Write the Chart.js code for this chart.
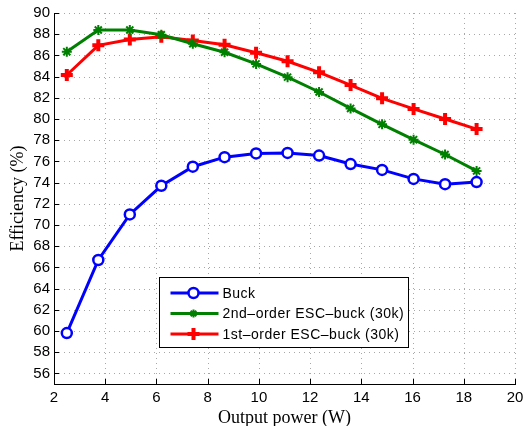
<!DOCTYPE html>
<html>
<head>
<meta charset="utf-8">
<script src="https://cdn.jsdelivr.net/npm/chart.js@4/dist/chart.umd.min.js"></script>
<style>
    html, body { margin: 0; padding: 0; background: #fff; }
    #wrap { width: 525px; height: 426px; }
</style>
</head>
<body>
<div id="wrap"><canvas id="myChart" width="525" height="426"></canvas></div>
<script>
// output power (W)
var power = [2.5, 3.73, 4.96, 6.19, 7.42, 8.66, 9.89, 11.12, 12.35, 13.58, 14.81, 16.04, 17.27, 18.5];
// efficiency (%)
var buck = [59.8, 66.7, 71.0, 73.7, 75.5, 76.4, 76.75, 76.8, 76.55, 75.75, 75.2, 74.35, 73.85, 74.05];
var esc2nd = [86.35, 88.4, 88.4, 87.95, 87.1, 86.3, 85.2, 83.95, 82.55, 81.0, 79.5, 78.05, 76.65, 75.1];
var esc1st = [84.15, 86.95, 87.5, 87.75, 87.4, 87.0, 86.25, 85.45, 84.4, 83.2, 81.95, 80.95, 80.0, 79.05];
var names = ['Buck', '2nd\u2013order ESC\u2013buck (30k)', '1st\u2013order ESC\u2013buck (30k)'];
var xTicks = [2, 4, 6, 8, 10, 12, 14, 16, 18, 20];
var yTicks = [56, 58, 60, 62, 64, 66, 68, 70, 72, 74, 76, 78, 80, 82, 84, 86, 88, 90];

function toPoints(values) {
    var pts = [];
    values.forEach(function (v, i) {
        pts.push({ x: power[i], y: v });
    });
    return pts;
}

var tickFont = { family: "'Liberation Sans', Arial, sans-serif", size: 15 };
var titleFont = { family: "'Liberation Serif', 'Times New Roman', serif", size: 18 };

// dotted grid drawn under the lines
var dottedGrid = {
    id: 'dottedGrid',
    beforeDatasetsDraw: function (chart) {
        var ctx = chart.ctx;
        var area = chart.chartArea;
        var xs = chart.scales.x;
        var ys = chart.scales.y;
        ctx.save();
        ctx.strokeStyle = '#a8a8a8';
        ctx.lineWidth = 1;
        ctx.setLineDash([1, 4]);
        ctx.beginPath();
        xs.ticks.forEach(function (t) {
            var px = Math.round(xs.getPixelForValue(t.value)) + 0.5;
            if (px - area.left < 2) return;
            ctx.moveTo(px, area.bottom);
            ctx.lineTo(px, area.top);
        });
        ys.ticks.forEach(function (t) {
            var py = Math.round(ys.getPixelForValue(t.value)) + 0.5;
            ctx.moveTo(area.left, py);
            ctx.lineTo(area.right, py);
        });
        ctx.stroke();
        ctx.restore();
    }
};

var customDraw = {
    id: 'customDraw',
    afterDraw: function (chart) {
        var ctx = chart.ctx;
        var area = chart.chartArea;
        var xs = chart.scales.x;
        var ys = chart.scales.y;

        ctx.save();
        // inward ticks
        ctx.strokeStyle = '#000';
        ctx.lineWidth = 1;
        ctx.beginPath();
        xs.ticks.forEach(function (t) {
            var px = Math.round(xs.getPixelForValue(t.value)) + 0.5;
            ctx.moveTo(px, area.bottom);
            ctx.lineTo(px, area.bottom - 5);
        });
        ys.ticks.forEach(function (t) {
            var py = Math.round(ys.getPixelForValue(t.value)) + 0.5;
            ctx.moveTo(area.left, py);
            ctx.lineTo(area.left + 5, py);
        });
        ctx.stroke();

        // legend box
        var left = 159.5;
        var top = 277.5;
        var w = 249, h = 70;
        ctx.fillStyle = '#fff';
        ctx.fillRect(left, top, w, h);
        ctx.strokeStyle = '#000';
        ctx.lineWidth = 1;
        ctx.strokeRect(left, top, w, h);

        chart.data.datasets.forEach(function (ds, i) {
            var y = top + 15.5 + i * 20.5;
            ctx.strokeStyle = ds.borderColor;
            ctx.lineWidth = ds.borderWidth;
            ctx.beginPath();
            ctx.moveTo(left + 11, y);
            ctx.lineTo(left + 59, y);
            ctx.stroke();
            ctx.fillStyle = ds.pointBackgroundColor;
            ctx.strokeStyle = ds.borderColor;
            ctx.lineWidth = ds.pointBorderWidth;
            Chart.helpers.drawPoint(ctx, {
                pointStyle: ds.pointStyle,
                radius: ds.legendRadius,
                borderWidth: ds.pointBorderWidth,
                rotation: 0
            }, left + 34, y);
            ctx.fillStyle = '#000';
            ctx.font = "14px 'Liberation Sans', Arial, sans-serif";
            ctx.letterSpacing = '0.5px';
            ctx.textBaseline = 'middle';
            ctx.textAlign = 'left';
            ctx.fillText(names[i], left + 63, y + 1);
        });
        ctx.restore();
    }
};

var ctx = document.getElementById('myChart');

new Chart(ctx, {
    type: 'line',
    data: {
        datasets: [{
            label: names[0],
            data: toPoints(buck),
            borderColor: '#0000ff',
            borderWidth: 3,
            pointStyle: 'circle',
            pointRadius: 5,
            legendRadius: 5,
            pointBorderWidth: 2.5,
            pointBackgroundColor: '#ffffff',
            pointBorderColor: '#0000ff'
        }, {
            label: names[1],
            data: toPoints(esc2nd),
            borderColor: '#008000',
            borderWidth: 3,
            pointStyle: 'star',
            pointRadius: 5,
            legendRadius: 4,
            pointBorderWidth: 2,
            pointBackgroundColor: '#008000',
            pointBorderColor: '#008000'
        }, {
            label: names[2],
            data: toPoints(esc1st),
            borderColor: '#ff0000',
            borderWidth: 3,
            pointStyle: 'cross',
            pointRadius: 6,
            legendRadius: 6,
            pointBorderWidth: 4,
            pointBackgroundColor: '#ff0000',
            pointBorderColor: '#ff0000'
        }]
    },
    options: {
        responsive: false,
        animation: false,
        layout: { padding: { top: 13, right: 0, left: 0, bottom: 0 } },
        elements: { line: { tension: 0 } },
        plugins: {
            legend: { display: false },
            tooltip: { enabled: false }
        },
        scales: {
            x: {
                type: 'linear',
                min: 2,
                max: 20,
                afterBuildTicks: function (scale) {
                    scale.ticks = xTicks.map(function (v) { return { value: v }; });
                },
                afterFit: function (scale) {
                    scale.height = 42;
                    scale.paddingRight = 8;
                    scale.paddingLeft = 0;
                },
                ticks: { font: tickFont, color: '#000', padding: 5, maxRotation: 0 },
                grid: { display: false, drawTicks: false },
                border: { display: true, color: '#000', width: 1 },
                title: { display: true, text: 'Output power (W)', font: titleFont, color: '#000', padding: { top: 0, bottom: -3 } }
            },
            y: {
                type: 'linear',
                min: 55,
                max: 90,
                afterBuildTicks: function (scale) {
                    scale.ticks = yTicks.map(function (v) { return { value: v }; });
                },
                afterFit: function (scale) { scale.width = 54; },
                ticks: { font: tickFont, color: '#000', padding: 4 },
                grid: { display: false, drawTicks: false },
                border: { display: true, color: '#000', width: 1 },
                title: { display: true, text: 'Efficiency (%)', font: titleFont, color: '#000', padding: { top: 7, bottom: 0 } }
            }
        }
    },
    plugins: [dottedGrid, customDraw]
});
</script>
</body>
</html>
